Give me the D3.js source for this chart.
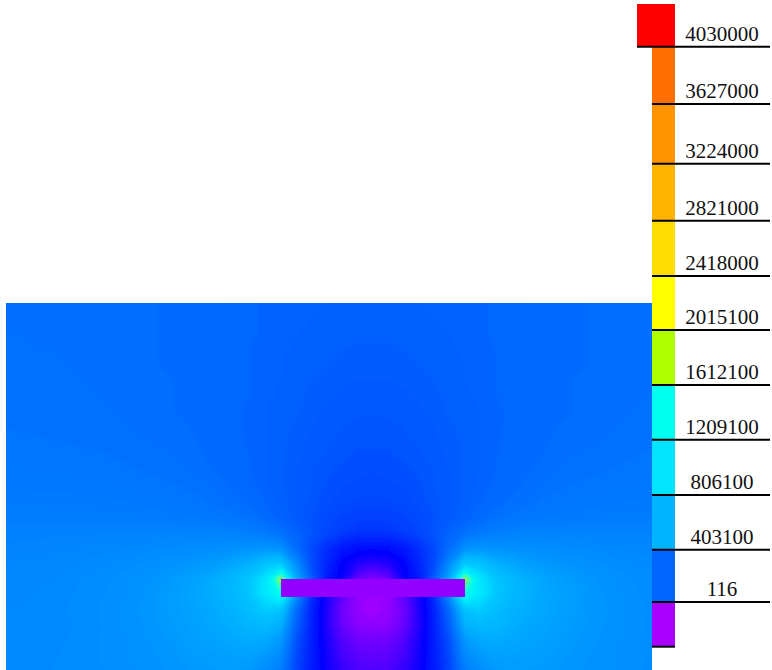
<!DOCTYPE html>
<html lang="en">
<head>
  <meta charset="UTF-8">
  <title>Field</title>
  <script src="https://d3js.org/d3.v7.min.js"></script>
  <style>
    html, body { margin: 0; padding: 0; background: #fff; }
    svg { display: block; }
    .level { font-family: "Liberation Serif", serif; font-size: 21px; fill: #111; text-anchor: middle; }
  </style>
</head>
<body>
  <svg></svg>
  <script>
    // colour bar, top to bottom
    const levelLabels = ["4030000", "3627000", "3224000", "2821000", "2418000", "2015100", "1612100", "1209100", "806100", "403100", "116", ""];
    const levelColors = ["#ff0000", "#ff6e00", "#ff9400", "#ffb400", "#ffdd00", "#ffff00", "#b0ff00", "#00ffee", "#00e4ff", "#00b4ff", "#0066ff", "#aa00ff"];

    // field colour ramp, indexed by the values in fieldHalf
    const rampStops = [0, 1, 2, 3, 4, 5, 6, 7];
    const rampColors = ["#a000ff", "#0000ff", "#0066ff", "#00b4ff", "#00e4ff", "#00ffee", "#b0ff00", "#ffff00"];

    // field: one row per line, from the centre line out to the left edge
    const fieldHalf = [
      [1.95,1.95,1.95,1.96,1.96,1.97,1.98,1.99,2.01,2.02,2.04,2.05,2.06,2.07,2.08,2.08,2.09,2.09,2.10,2.10,2.10,2.11,2.11,2.11,2.11],
      [1.94,1.94,1.94,1.95,1.96,1.97,1.98,1.99,2.01,2.02,2.04,2.05,2.06,2.07,2.08,2.08,2.09,2.09,2.10,2.10,2.11,2.11,2.11,2.11,2.11],
      [1.93,1.93,1.94,1.94,1.95,1.96,1.97,1.99,2.01,2.02,2.04,2.05,2.06,2.07,2.08,2.09,2.09,2.10,2.10,2.11,2.11,2.11,2.11,2.12,2.12],
      [1.91,1.91,1.92,1.93,1.94,1.95,1.97,1.98,2.00,2.02,2.04,2.05,2.06,2.07,2.08,2.09,2.09,2.10,2.11,2.11,2.11,2.12,2.12,2.12,2.12],
      [1.90,1.90,1.91,1.92,1.93,1.95,1.96,1.98,2.00,2.02,2.04,2.05,2.06,2.07,2.08,2.09,2.10,2.10,2.11,2.11,2.12,2.12,2.12,2.13,2.13],
      [1.88,1.88,1.89,1.91,1.92,1.94,1.96,1.97,2.00,2.01,2.04,2.05,2.06,2.08,2.08,2.09,2.10,2.11,2.11,2.12,2.12,2.13,2.13,2.13,2.13],
      [1.86,1.87,1.87,1.89,1.91,1.93,1.95,1.97,2.00,2.01,2.04,2.05,2.07,2.08,2.09,2.10,2.10,2.11,2.12,2.12,2.13,2.13,2.13,2.14,2.14],
      [1.85,1.85,1.86,1.87,1.90,1.93,1.95,1.96,1.99,2.01,2.04,2.06,2.07,2.08,2.09,2.10,2.11,2.12,2.12,2.13,2.13,2.14,2.14,2.14,2.15],
      [1.83,1.83,1.84,1.86,1.88,1.91,1.94,1.96,1.99,2.01,2.04,2.06,2.08,2.09,2.10,2.11,2.12,2.13,2.13,2.14,2.14,2.15,2.15,2.15,2.16],
      [1.81,1.81,1.83,1.85,1.87,1.90,1.93,1.96,1.99,2.02,2.05,2.07,2.09,2.10,2.11,2.12,2.13,2.14,2.15,2.15,2.16,2.16,2.17,2.17,2.17],
      [1.79,1.79,1.81,1.83,1.86,1.89,1.93,1.96,2.00,2.02,2.06,2.08,2.10,2.12,2.13,2.14,2.15,2.16,2.17,2.17,2.18,2.18,2.18,2.19,2.19],
      [1.76,1.77,1.78,1.81,1.84,1.88,1.93,1.96,2.00,2.03,2.07,2.10,2.12,2.14,2.15,2.16,2.17,2.18,2.19,2.19,2.20,2.20,2.21,2.21,2.21],
      [1.74,1.75,1.76,1.79,1.84,1.88,1.93,1.97,2.02,2.06,2.10,2.13,2.15,2.17,2.18,2.19,2.20,2.21,2.22,2.22,2.23,2.23,2.23,2.24,2.24],
      [1.70,1.71,1.73,1.77,1.82,1.88,1.94,2.00,2.06,2.10,2.13,2.17,2.19,2.21,2.22,2.23,2.24,2.25,2.25,2.26,2.26,2.26,2.27,2.27,2.27],
      [1.62,1.63,1.67,1.73,1.80,1.88,1.97,2.05,2.14,2.19,2.22,2.24,2.25,2.26,2.27,2.28,2.29,2.29,2.30,2.30,2.30,2.30,2.30,2.30,2.30],
      [1.50,1.50,1.58,1.68,1.82,1.98,2.15,2.25,2.32,2.35,2.37,2.37,2.37,2.37,2.37,2.36,2.36,2.36,2.36,2.35,2.35,2.35,2.34,2.34,2.34],
      [1.10,1.12,1.22,1.45,1.72,2.10,2.55,2.60,2.56,2.55,2.53,2.51,2.49,2.48,2.47,2.45,2.44,2.43,2.42,2.41,2.40,2.39,2.38,2.38,2.37],
      [0.70,0.78,1.02,1.35,1.75,2.50,3.40,3.30,2.98,2.85,2.72,2.66,2.61,2.58,2.55,2.53,2.50,2.48,2.46,2.45,2.43,2.42,2.41,2.41,2.40],
      [0.15,0.35,0.95,1.25,1.90,2.90,5.90,4.10,3.40,3.10,2.95,2.84,2.75,2.68,2.62,2.58,2.55,2.52,2.50,2.48,2.46,2.44,2.43,2.42,2.42],
      [0.00,0.10,0.40,0.85,1.45,2.60,5.00,4.10,3.40,3.10,2.97,2.86,2.77,2.70,2.65,2.60,2.56,2.53,2.51,2.49,2.47,2.45,2.44,2.43,2.43],
      [0.00,0.08,0.30,0.80,1.35,2.10,3.30,3.50,3.20,3.00,2.92,2.84,2.76,2.70,2.65,2.61,2.57,2.54,2.52,2.50,2.48,2.46,2.45,2.44,2.44],
      [0.10,0.15,0.35,0.78,1.32,1.95,2.95,3.10,3.05,2.95,2.87,2.80,2.73,2.68,2.64,2.60,2.57,2.54,2.51,2.49,2.47,2.46,2.45,2.44,2.44],
      [0.28,0.32,0.48,0.85,1.30,1.80,2.65,2.85,2.90,2.85,2.80,2.75,2.70,2.66,2.62,2.59,2.56,2.54,2.52,2.50,2.48,2.47,2.46,2.45,2.45],
      [0.40,0.43,0.58,0.88,1.28,1.72,2.45,2.65,2.75,2.75,2.72,2.70,2.67,2.63,2.60,2.58,2.55,2.53,2.52,2.50,2.49,2.47,2.46,2.46,2.45],
      [0.50,0.52,0.68,0.92,1.26,1.68,2.30,2.50,2.65,2.68,2.68,2.66,2.64,2.61,2.59,2.57,2.55,2.53,2.51,2.50,2.49,2.48,2.47,2.46,2.46]
    ];

    // the plate, in grid units
    const plateColumns = [-6, 6];
    const plateRows = [18, 19.17];
    const plateColor = "#9400ff";

    const width = 772, height = 670;
    const svg = d3.select("svg").attr("width", width).attr("height", height);

    const nRows = fieldHalf.length, nHalf = fieldHalf[0].length;
    const nCols = nHalf * 2 - 1;
    // the picture is symmetric around the centre line, so mirror each row
    const values = fieldHalf.flatMap(r => r.slice().reverse().concat(r.slice(1)));

    const plotLeft = 6, plotRight = 652, plotTop = 303, plotBottom = 670;
    const x = d3.scaleLinear().domain([-24, 24]).range([5.1, 740.9]);
    const y = d3.scaleLinear().domain([0, 24]).range([303, 671]);
    const ramp = d3.scaleLinear().domain(rampStops).range(rampColors).clamp(true);

    const defs = svg.append("defs");
    defs.append("clipPath").attr("id", "plot").append("rect")
      .attr("x", plotLeft).attr("y", plotTop)
      .attr("width", plotRight - plotLeft).attr("height", plotBottom - plotTop);
    defs.append("filter").attr("id", "soft")
      .attr("filterUnits", "userSpaceOnUse").attr("x", -20).attr("y", 280).attr("width", 800).attr("height", 410)
      .append("feGaussianBlur").attr("stdDeviation", 1.8);

    const thresholds = d3.range(0, 7, 0.04);
    const contours = d3.contours().size([nCols, nRows]).thresholds(thresholds)(values);
    const path = d3.geoPath(d3.geoTransform({
      point(cx, cy) { this.stream.point(x(cx - 0.5 - (nHalf - 1)), y(cy - 0.5)); }
    }));

    const plot = svg.append("g").attr("clip-path", "url(#plot)");
    const field = plot.append("g").attr("filter", "url(#soft)");
    field.selectAll("path").data(contours).enter().append("path")
      .attr("d", path)
      .attr("fill", d => ramp(d.value + 0.02));

    plot.append("rect")
      .attr("x", x(plateColumns[0])).attr("y", y(plateRows[0]))
      .attr("width", x(plateColumns[1]) - x(plateColumns[0]))
      .attr("height", y(plateRows[1]) - y(plateRows[0]))
      .attr("fill", plateColor);

    // colour bar
    const levelY = d3.scaleOrdinal().domain(levelLabels)
      .range([46.7, 104, 163.7, 220.7, 276, 330, 385, 439.7, 495, 549.7, 602, 646.7]);
    const barTop = i => i === 0 ? 4 : levelY(levelLabels[i - 1]);

    const legend = svg.append("g");
    legend.selectAll("rect").data(levelLabels).enter().append("rect")
      .attr("x", (d, i) => i === 0 ? 637 : 652)
      .attr("width", (d, i) => i === 0 ? 38 : 23)
      .attr("y", (d, i) => barTop(i))
      .attr("height", (d, i) => levelY(d) - barTop(i))
      .attr("fill", (d, i) => levelColors[i]);
    legend.selectAll("line").data(levelLabels).enter().append("line")
      .attr("x1", (d, i) => i === 0 ? 637 : 652)
      .attr("x2", d => d === "" ? 675 : 770)
      .attr("y1", d => levelY(d)).attr("y2", d => levelY(d))
      .attr("stroke", "#000").attr("stroke-width", 2);
    legend.selectAll("text").data(levelLabels.filter(d => d !== "")).enter().append("text")
      .attr("class", "level")
      .attr("x", 722)
      .attr("y", d => levelY(d) - 6)
      .text(d => d);
  </script>
</body>
</html>
